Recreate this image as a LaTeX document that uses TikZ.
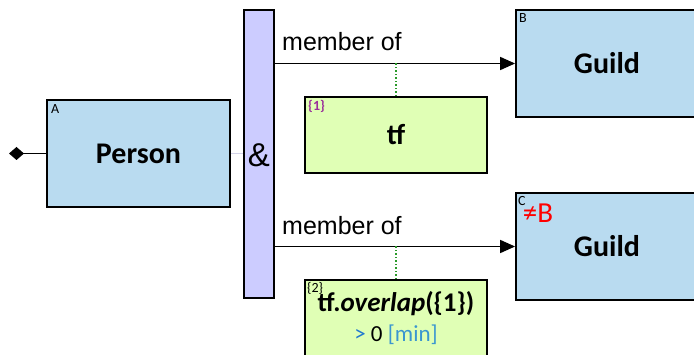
\documentclass[tikz,border=0pt]{standalone}
\usepackage{fontspec}
\setmainfont{Carlito}
\newfontfamily\arialfont{Liberation Sans}
\usetikzlibrary{arrows.meta, positioning, shapes.geometric}

\definecolor{entityblue}{HTML}{B9DBF0}
\definecolor{andlilac}{HTML}{CCCCFF}
\definecolor{filtergreen}{HTML}{E0FFB5}
\definecolor{tiegreen}{HTML}{2A9A2A}
\definecolor{refpurple}{HTML}{9A2F9A}
\definecolor{opblue}{HTML}{1F78CF}
\definecolor{unitblue}{HTML}{3A96D0}

\begin{document}
\begin{tikzpicture}[
    x=1pt, y=-1pt,
    entity/.style={
        rectangle, draw=black, fill=entityblue, line width=1.8pt,
        minimum width=183pt, minimum height=107pt, inner sep=0pt,
        font=\fontsize{30}{32}\selectfont\bfseries
    },
    andbar/.style={
        rectangle, draw=black, fill=andlilac, line width=1.8pt,
        minimum width=30pt, minimum height=288pt, inner sep=0pt
    },
    filterbox/.style={
        rectangle, draw=black, fill=filtergreen, line width=1.8pt,
        minimum width=182pt, minimum height=76pt, inner sep=0pt
    },
    tag/.style={font=\fontsize{14}{14}\selectfont, inner sep=0pt, anchor=north west},
    rel/.style={font=\arialfont\fontsize{25}{26}\selectfont, inner sep=0pt},
    arr/.style={-{Triangle[length=15pt, width=13pt]}, line width=1.6pt},
    tie/.style={draw=tiegreen, dotted, line width=1.5pt},
]

\clip (0,0) rectangle (694,355);

\node[entity] (person) at (138.5,153.5) {Person};
\node[andbar] (and) at (259,154) {};
\node[font=\arialfont\fontsize{33}{34}\selectfont, inner sep=0pt] (amp) at (259,155) {\&};

\node[entity, minimum width=182pt] (guildB) at (607,63.5) {Guild};
\node[entity, minimum width=182pt] (guildC) at (607,246.5) {Guild};

\node[filterbox] (tf1) at (396,135) {};
\node[filterbox, minimum height=90pt] (tf2) at (396,325) {};

% Labels
\node[tag] (tagA) at (51,104) {A};
\node[tag] (tagB) at (519,13) {B};
\node[tag] (tagC) at (518,196) {C};
\node[font=\fontsize{29}{30}\selectfont, text=red, inner sep=0pt] (notB) at (538,213) {≠B};
\node[tag, font=\fontsize{14}{14}\selectfont\bfseries, text=refpurple] (ref1) at (308,100) {\{1\}};
\node[tag, font=\fontsize{14}{14}\selectfont] (ref2) at (307,282) {\{2\}};

\node[font=\fontsize{29}{30}\selectfont\bfseries, inner sep=0pt] (tftext) at (396,135) {tf};
\node[font=\fontsize{27}{28}\selectfont\bfseries, inner sep=0pt] (overlap) at (396,304)
    {tf.\textit{overlap}(\{1\})};
\node[font=\fontsize{23}{24}\selectfont, inner sep=0pt] (minval) at (396,335)
    {\textcolor{opblue}{>} 0 \textcolor{unitblue}{[min]}};

\node[rel, anchor=west] (mof1) at (282,42) {member of};
\node[rel, anchor=west] (mof2) at (282,226) {member of};

% Connectors
\coordinate (root) at (9,153.5);
\draw[{Diamond[length=15pt, width=13pt]}-, line width=1.6pt] (root) -- (person.west);
\draw[draw=andlilac!70!gray!60, line width=1pt] (person.east) -- (and.west |- person.east);

\draw[arr] (and.east |- guildB.west) -- (guildB.west);
\draw[arr] (and.east |- guildC.west) -- (guildC.west);

\draw[tie] (tf1.north) -- (tf1.north |- guildB.west);
\draw[tie] (tf2.north) -- (tf2.north |- guildC.west);

\end{tikzpicture}
\end{document}
